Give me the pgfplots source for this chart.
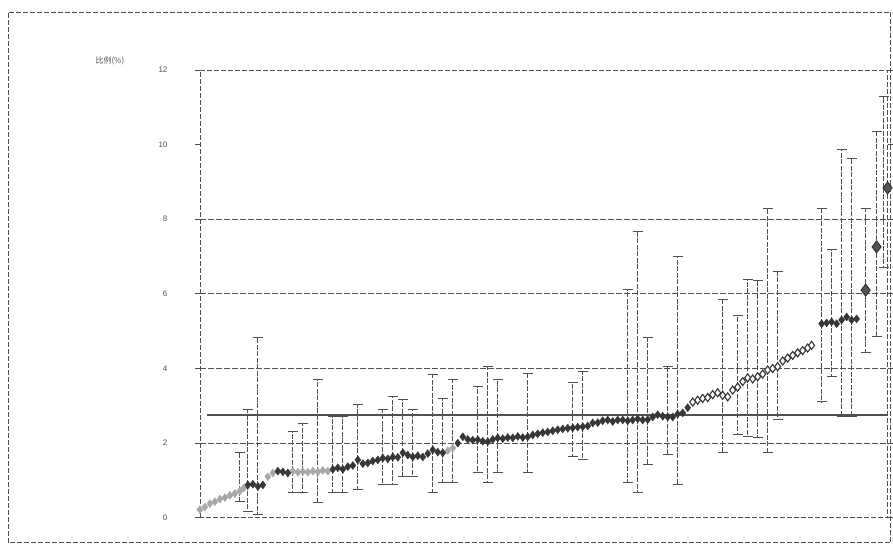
\documentclass[border=0pt]{standalone}
\usepackage{fontspec}
\setmainfont{Liberation Sans}
\newfontfamily\cjk{Noto Sans CJK SC}
\usepackage{pgfplots}
\usepackage{pgfplotstable}
\pgfplotsset{compat=1.18}
\definecolor{lg}{HTML}{A8A8A8}
\definecolor{dk}{HTML}{363636}
\definecolor{ln}{HTML}{505050}

% light grey points
\pgfplotstableread{
x y
200 0.22
205 0.29
210 0.38
215 0.43
220 0.50
225 0.54
230 0.60
235 0.65
240 0.72
244 0.80
268 1.10
273 1.20
293 1.25
298 1.22
303 1.24
308 1.22
313 1.25
318 1.23
323 1.27
328 1.25
448 1.80
453 1.87
}\ga
% dark filled points
\pgfplotstableread{
x y
248 0.88
253 0.90
258 0.84
263 0.88
278 1.25
283 1.23
288 1.20
333 1.30
338 1.34
343 1.30
348 1.37
353 1.40
358 1.55
363 1.45
368 1.47
373 1.52
378 1.55
383 1.60
388 1.58
393 1.63
398 1.62
403 1.74
408 1.68
413 1.63
418 1.66
423 1.63
428 1.72
433 1.82
438 1.76
443 1.74
458 2.00
463 2.17
468 2.10
473 2.08
478 2.09
483 2.05
488 2.04
493 2.10
498 2.14
503 2.12
508 2.15
513 2.14
518 2.18
523 2.15
528 2.17
533 2.22
538 2.25
543 2.28
548 2.30
553 2.33
558 2.36
563 2.38
568 2.40
573 2.41
578 2.43
583 2.44
588 2.46
593 2.54
598 2.55
603 2.60
608 2.62
613 2.58
618 2.62
623 2.62
628 2.60
633 2.62
638 2.65
643 2.62
648 2.63
653 2.70
658 2.76
663 2.72
668 2.70
673 2.70
678 2.78
683 2.81
688 2.95
822 5.20
827 5.22
832 5.25
837 5.20
842 5.30
847 5.38
852 5.30
857 5.33
}\gb
% hollow points
\pgfplotstableread{
x y
693 3.10
698 3.15
703 3.20
708 3.22
713 3.30
718 3.35
723 3.28
728 3.24
733 3.42
738 3.50
743 3.65
748 3.75
753 3.72
758 3.78
763 3.85
768 3.96
773 4.00
778 4.05
783 4.20
788 4.28
793 4.35
798 4.42
803 4.48
808 4.55
812 4.62
}\gc
% large points
\pgfplotstableread{
x y
866 6.10
877 7.26
888 8.84
}\gd
% error bars
\pgfplotstableread{
x y ep em
240 0.72 1.02 0.29
248 0.88 2.01 0.72
258 0.84 3.98 0.76
293 1.25 1.05 0.58
303 1.24 1.30 0.57
318 1.23 2.47 0.83
333 1.30 1.41 0.63
343 1.30 1.41 0.63
358 1.55 1.48 0.80
383 1.60 1.29 0.72
393 1.63 1.61 0.75
403 1.74 1.42 0.64
413 1.63 1.26 0.53
433 1.82 2.01 1.15
443 1.74 1.47 0.80
453 1.87 1.83 0.93
478 2.09 1.42 0.88
488 2.04 2.01 1.10
498 2.14 1.56 0.93
528 2.17 1.71 0.96
573 2.41 1.21 0.78
583 2.44 1.47 0.89
628 2.60 3.51 1.66
638 2.65 5.01 1.98
648 2.63 2.19 1.21
668 2.70 1.35 1.01
678 2.78 4.21 1.90
723 3.28 2.56 1.54
738 3.50 1.91 1.28
748 3.75 2.63 1.58
758 3.78 2.57 1.64
768 3.96 4.34 2.22
778 4.05 2.54 1.42
822 5.20 3.10 2.09
832 5.25 1.93 1.47
842 5.30 4.56 2.59
852 5.30 4.34 2.59
866 6.10 2.20 1.68
877 7.26 3.08 2.41
884 8.84 2.44 2.14
}\errs

\begin{document}
\begin{tikzpicture}
\begin{axis}[
  scale only axis, width=688bp, height=448bp,
  xmin=200, xmax=888, ymin=0, ymax=12,
  xtick=\empty, ytick={0,2,...,12},
  extra y ticks={2,4,6,8}, extra y tick labels={},
  extra y tick style={grid=major},
  grid style={ln, line width=1.2bp, dash pattern=on 6bp off 2bp},
  axis line style={ln, line width=0.8bp, dash pattern=on 5bp off 2bp},
  tick style={ln, line width=0.8bp}, tick align=outside, major tick length=5bp,
  yticklabel style={font=\fontsize{8}{9}\selectfont, text=ln, xshift=-24bp},
  /pgf/number format/assume math mode=true,
  clip=false,
]
\addplot[ln, line width=1.5bp, forget plot] coordinates {(207,2.75) (888,2.75)};
\addplot[draw=none, mark=none, forget plot,
  error bars/.cd, y dir=both, y explicit,
  error bar style={draw=ln, line width=0.9bp, dash pattern=on 5bp off 1.5bp},
  error mark options={rotate=90, mark size=5bp, draw=ln, solid, line width=0.9bp}]
  table[x=x, y=y, y error plus=ep, y error minus=em]{\errs};
\addplot[only marks, mark=diamond*, mark size=4bp, mark options={fill=lg, draw=lg}] table[x=x,y=y]{\ga};
\addplot[only marks, mark=diamond*, mark size=4bp, mark options={fill=dk, draw=dk}] table[x=x,y=y]{\gb};
\addplot[only marks, mark=diamond*, mark size=4bp, mark options={fill=white, draw=dk, line width=1.1bp}] table[x=x,y=y]{\gc};
\addplot[only marks, mark=diamond*, mark size=6bp, mark options={fill=dk!85, draw=dk, line width=1bp}] table[x=x,y=y]{\gd};
\node[font=\cjk\fontsize{8}{9}\selectfont, text=ln] at (rel axis cs:0,1) [xshift=-90bp, yshift=9bp] {比例(\%)};
\end{axis}
\draw[ln, line width=0.8bp, dash pattern=on 5bp off 2bp] (-192bp,-25bp) rectangle (691bp,506bp);
\path (-200bp,-25bp) rectangle (693bp,518bp);
\end{tikzpicture}
\end{document}
